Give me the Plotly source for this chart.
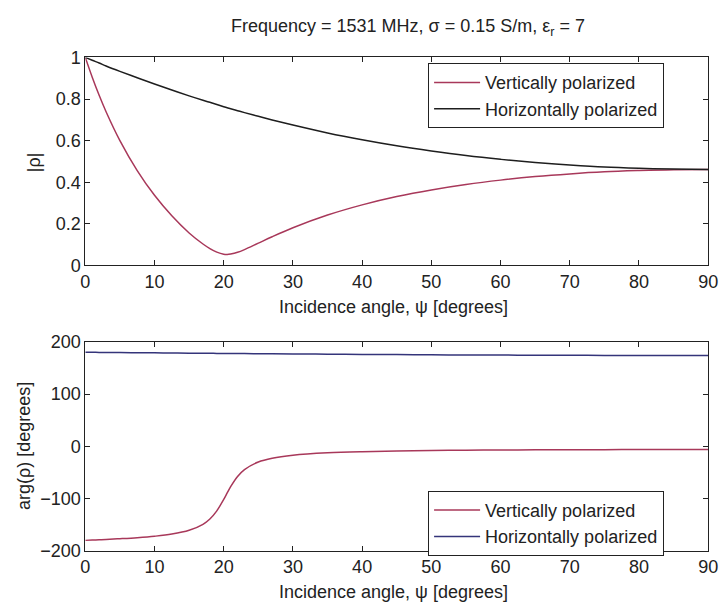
import plotly.graph_objects as go

# Incidence angle (degrees) and reflection coefficient values
angle_deg = [0, 1, 2, 3, 5, 7.5, 10, 12.5, 15, 17, 18, 19, 20, 20.5, 21, 22, 23,
             25, 27, 30, 35, 40, 45, 50, 55, 60, 65, 70, 75, 80, 85, 90]

mag_vert = [1.0, 0.905, 0.818, 0.739, 0.600, 0.456, 0.337, 0.2385, 0.156, 0.103,
            0.081, 0.064, 0.054, 0.053, 0.055, 0.063, 0.076, 0.107, 0.138, 0.181,
            0.242, 0.291, 0.331, 0.363, 0.389, 0.410, 0.427, 0.440, 0.450, 0.456,
            0.460, 0.461]

mag_horiz = [1.0, 0.986, 0.973, 0.959, 0.933, 0.902, 0.872, 0.843, 0.815, 0.794,
             0.784, 0.7735, 0.763, 0.758, 0.7536, 0.744, 0.7346, 0.7167, 0.6995,
             0.675, 0.637, 0.604, 0.575, 0.550, 0.528, 0.510, 0.495, 0.483, 0.473,
             0.467, 0.463, 0.461]

arg_vert = [-180, -179.4, -178.8, -178.2, -176.8, -174.8, -172.1, -168.0, -160.7,
            -149.2, -139.0, -123.5, -101.5, -89.2, -77.2, -57.7, -44.5, -30.0,
            -22.8, -17.1, -12.5, -10.2, -8.9, -8.0, -7.4, -7.0, -6.7, -6.4, -6.3,
            -6.2, -6.1, -6.1]

arg_horiz = [180, 179.9, 179.8, 179.7, 179.4, 179.2, 178.9, 178.6, 178.3, 178.1,
             178.0, 177.9, 177.8, 177.7, 177.7, 177.6, 177.5, 177.3, 177.1, 176.8,
             176.4, 175.9, 175.6, 175.2, 174.9, 174.7, 174.4, 174.2, 174.1, 174.0,
             174.0, 173.9]

x_ticks = [0, 10, 20, 30, 40, 50, 60, 70, 80, 90]
mag_ticks = [0, 0.2, 0.4, 0.6, 0.8, 1]
mag_tick_text = ["0", "0.2", "0.4", "0.6", "0.8", "1"]
arg_ticks = [-200, -100, 0, 100, 200]

title_text = "Frequency = 1531 MHz, σ = 0.15 S/m, ε<sub>r</sub> = 7"
x_title = "Incidence angle, ψ [degrees]"
name_v = "Vertically polarized"
name_h = "Horizontally polarized"

FONT = "Liberation Sans, Arial, sans-serif"
FS = 18
RED = "#a8385a"
BLACK = "#1e1e1e"
NAVY = "#34347a"

W, H = 727, 615

fig = go.Figure()

fig.add_trace(go.Scatter(x=angle_deg, y=mag_vert, mode="lines", name=name_v,
                         line=dict(color=RED, width=1.5, shape="spline"),
                         xaxis="x", yaxis="y", legend="legend"))
fig.add_trace(go.Scatter(x=angle_deg, y=mag_horiz, mode="lines", name=name_h,
                         line=dict(color=BLACK, width=1.5, shape="spline"),
                         xaxis="x", yaxis="y", legend="legend"))
fig.add_trace(go.Scatter(x=angle_deg, y=arg_vert, mode="lines", name=name_v,
                         line=dict(color=RED, width=1.5, shape="spline"),
                         xaxis="x2", yaxis="y2", legend="legend2"))
fig.add_trace(go.Scatter(x=angle_deg, y=arg_horiz, mode="lines", name=name_h,
                         line=dict(color=NAVY, width=1.5, shape="spline"),
                         xaxis="x2", yaxis="y2", legend="legend2"))

x_dom = [82 / W, 718 / W]
top_dom = [1 - 264 / H, 1 - 49 / H]
bot_dom = [1 - 559 / H, 1 - 343 / H]

axis_common = dict(showline=True, linecolor="#222", linewidth=1, mirror="ticks",
                   ticks="inside", ticklen=5, tickcolor="#222", showgrid=False,
                   zeroline=False, ticklabeloverflow="allow",
                   tickfont=dict(family=FONT, size=FS, color="#222"))

legend_common = dict(bgcolor="white", bordercolor="#222", borderwidth=1,
                     font=dict(family=FONT, size=FS, color="#222"),
                     xanchor="left", yanchor="top", tracegroupgap=0,
                     itemwidth=46)

fig.update_layout(
    width=W, height=H,
    margin=dict(l=0, r=0, t=0, b=0),
    paper_bgcolor="white", plot_bgcolor="white",
    xaxis=dict(domain=x_dom, range=[0, 90], tickvals=x_ticks, anchor="y", **axis_common),
    yaxis=dict(domain=top_dom, range=[0, 1], tickvals=mag_ticks, ticktext=mag_tick_text,
               anchor="x", **axis_common),
    xaxis2=dict(domain=x_dom, range=[0, 90], tickvals=x_ticks, anchor="y2", **axis_common),
    yaxis2=dict(domain=bot_dom, range=[-200, 200], tickvals=arg_ticks, anchor="x2",
                **axis_common),
    legend=dict(x=432 / W, y=1 - 55 / H, **legend_common),
    legend2=dict(x=432 / W, y=1 - 497 / H, **legend_common),
    showlegend=True,
)

label_font = dict(family=FONT, size=FS, color="#222")
fig.add_annotation(text=title_text, x=412 / W, y=1 - 18 / H, xref="paper", yref="paper",
                   showarrow=False, font=label_font, xanchor="center", yanchor="middle")
fig.add_annotation(text=x_title, x=397 / W, y=1 - 307 / H, xref="paper", yref="paper",
                   showarrow=False, font=label_font, xanchor="center", yanchor="middle")
fig.add_annotation(text=x_title, x=397 / W, y=1 - 602 / H, xref="paper", yref="paper",
                   showarrow=False, font=label_font, xanchor="center", yanchor="middle")
fig.add_annotation(text="|ρ|", x=30 / W, y=1 - 157 / H, xref="paper", yref="paper",
                   showarrow=False, font=label_font, textangle=-90,
                   xanchor="center", yanchor="middle")
fig.add_annotation(text="arg(ρ) [degrees]", x=20 / W, y=1 - 451 / H, xref="paper",
                   yref="paper", showarrow=False, font=label_font, textangle=-90,
                   xanchor="center", yanchor="middle")

fig.write_html("out.html")
